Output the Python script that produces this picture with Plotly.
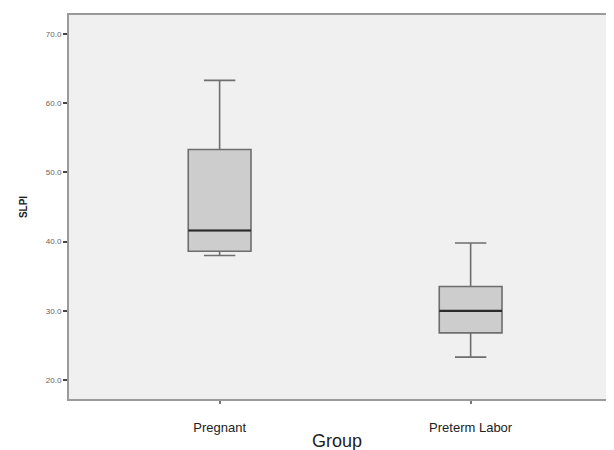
import plotly.graph_objects as go

groups = ["Pregnant", "Preterm Labor"]
lower_whisker = [38.0, 23.3]
q1_values = [38.6, 26.8]
median_values = [41.6, 30.0]
q3_values = [53.3, 33.5]
upper_whisker = [63.3, 39.8]
y_ticks = [20, 30, 40, 50, 60, 70]

box_frac = 0.25

fig = go.Figure()
fig.add_trace(go.Box(
    x=groups,
    q1=q1_values, median=median_values, q3=q3_values,
    lowerfence=lower_whisker, upperfence=upper_whisker,
    fillcolor="#cdcdcd",
    line=dict(color="#6e6e6e", width=1.6),
    whiskerwidth=0.5,
    boxpoints=False,
    hoverinfo="skip",
    showlegend=False,
))

shapes = []
for i, m in enumerate(median_values):
    shapes.append(dict(type="line", xref="x", yref="y",
                       x0=i - box_frac / 2, x1=i + box_frac / 2, y0=m, y1=m,
                       line=dict(color="#2a2a2a", width=2.2)))

fig.update_layout(
    width=614, height=442,
    autosize=False,
    margin=dict(l=61, r=0, t=7, b=51),
    paper_bgcolor="white",
    plot_bgcolor="#f0f0f0",
    boxgap=1 - box_frac,
    boxgroupgap=0,
    shapes=shapes,
    font=dict(family="Liberation Sans Narrow, Liberation Sans, Arial", color="#222"),
    annotations=[dict(text="Group", xref="paper", yref="paper", x=0.485, y=0,
                      yshift=-30, yanchor="top", xanchor="center", showarrow=False,
                      font=dict(size=18, color="#222",
                                family="Liberation Sans Narrow, Liberation Sans, Arial"))],
)
fig.update_xaxes(
    type="category", range=[-0.6, 1.603],
    showline=True, linecolor="#9a9a9a", linewidth=2, mirror=True,
    ticks="outside", ticklen=3, tickcolor="#777", tickwidth=2,
    ticklabelstandoff=12,
    tickfont=dict(size=13, color="#222"),
    showgrid=False, zeroline=False,
)
fig.update_yaxes(
    range=[17.25, 72.75],
    tickvals=y_ticks, ticktext=[f"{v:.1f}" for v in y_ticks],
    showline=True, linecolor="#9a9a9a", linewidth=2,
    ticks="outside", ticklen=4, tickcolor="#444", tickwidth=1.5,
    tickfont=dict(size=8, color="#666", family="Liberation Sans, Arial"),
    title=dict(text="<b>SLPI</b>", font=dict(size=10, color="#222", family="Liberation Sans, Arial"), standoff=16),
    showgrid=False, zeroline=False,
)

fig.write_html("out.html", config={"responsive": False})
